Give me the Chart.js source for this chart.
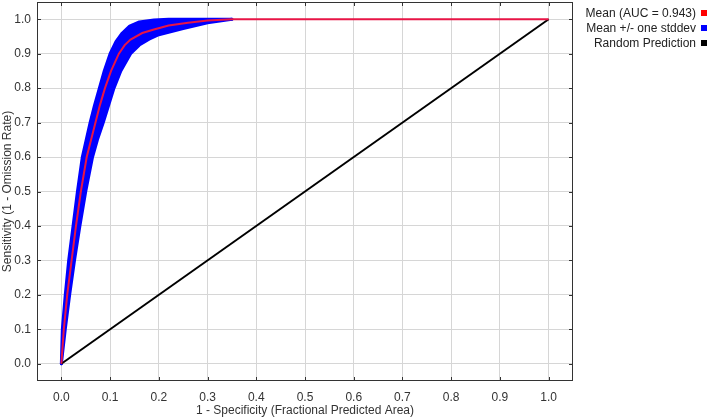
<!DOCTYPE html>
<html>
<head>
<meta charset="utf-8">
<title>ROC curve</title>
<script src="https://cdn.jsdelivr.net/npm/chart.js@4.4.0/dist/chart.umd.min.js"></script>
<style>
    body { margin: 0; background: #fff; }
    #wrap { position: relative; width: 708px; height: 420px; }
    #legend {
        position: absolute; top: 6px; right: 1px;
        font: 12px "Liberation Sans", Arial, sans-serif; color: #222;
        text-align: right;
    }
    #legend div { height: 15px; line-height: 15px; white-space: nowrap; }
    #legend span.box { display: inline-block; width: 6px; height: 6px; margin-left: 5px; vertical-align: 1px; }
</style>
</head>
<body>
<div id="wrap">
    <canvas id="roc" width="708" height="420"></canvas>
    <div id="legend"></div>
</div>
<script>
// tick values on both axes
const xTicks = [0, 0.1, 0.2, 0.3, 0.4, 0.5, 0.6, 0.7, 0.8, 0.9, 1.0];
const yTicks = [0, 0.1, 0.2, 0.3, 0.4, 0.5, 0.6, 0.7, 0.8, 0.9, 1.0];

const seriesLabels = ['Mean (AUC = 0.943)', 'Mean +/- one stddev', 'Random Prediction'];
const seriesColors = ['#ff0000', '#0000ff', '#000000'];

// mean ROC curve
const meanFpr = [0, 0.005, 0.012, 0.021, 0.030, 0.040, 0.052, 0.061, 0.070, 0.079, 0.0895, 0.102, 0.118, 0.13, 0.142, 0.166, 0.19, 0.22, 0.26, 0.3, 0.35, 1.0];
const meanTpr = [0, 0.1, 0.2, 0.3, 0.4, 0.5, 0.6, 0.65, 0.7, 0.75, 0.8, 0.85, 0.9, 0.925, 0.941, 0.96, 0.97, 0.982, 0.99, 0.996, 1.0, 1.0];

// upper / lower edge of the +/- one stddev band
const upperFpr = [0, 0.002, 0.008, 0.015, 0.024, 0.033, 0.043, 0.051, 0.059, 0.068, 0.078, 0.088, 0.1, 0.112, 0.125, 0.14, 0.16, 0.19, 0.22, 0.35];
const upperTpr = [0, 0.1, 0.2, 0.3, 0.4, 0.5, 0.6, 0.65, 0.7, 0.75, 0.8, 0.85, 0.9, 0.935, 0.96, 0.98, 0.992, 0.998, 1.0, 1.0];
const lowerFpr = [0, 0.008, 0.017, 0.027, 0.038, 0.050, 0.064, 0.074, 0.086, 0.097, 0.108, 0.122, 0.142, 0.16, 0.18, 0.2, 0.25, 0.3, 0.35];
const lowerTpr = [0, 0.1, 0.2, 0.3, 0.4, 0.5, 0.6, 0.65, 0.7, 0.75, 0.8, 0.85, 0.9, 0.925, 0.942, 0.955, 0.973, 0.99, 1.0];

// random prediction diagonal
const randomFpr = [0, 1];
const randomTpr = [0, 1];

const toPoints = (xs, ys) => xs.map((x, i) => ({ x: x, y: ys[i] }));

const FONT = { family: '"Liberation Sans", Arial, sans-serif', size: 12 };

// small inward tick marks on all four sides of the plot box
const innerTicks = {
    id: 'innerTicks',
    afterDraw(chart) {
        const { ctx, chartArea: a, scales } = chart;
        const len = 4;
        ctx.save();
        ctx.strokeStyle = '#333';
        ctx.lineWidth = 1;
        ctx.beginPath();
        xTicks.forEach(v => {
            const px = Math.round(scales.x.getPixelForValue(v)) + 0.5;
            ctx.moveTo(px, a.bottom); ctx.lineTo(px, a.bottom - len);
            ctx.moveTo(px, a.top); ctx.lineTo(px, a.top + len);
        });
        yTicks.forEach(v => {
            const py = Math.round(scales.y.getPixelForValue(v)) + 0.5;
            ctx.moveTo(a.left, py); ctx.lineTo(a.left + len, py);
            ctx.moveTo(a.right, py); ctx.lineTo(a.right - len, py);
        });
        ctx.stroke();
        ctx.strokeRect(a.left + 0.5, a.top + 0.5, a.right - a.left - 1, a.bottom - a.top - 1);
        ctx.restore();
    }
};

new Chart(document.getElementById('roc'), {
    type: 'scatter',
    data: {
        datasets: [
            {
                label: seriesLabels[0],
                data: toPoints(meanFpr, meanTpr),
                showLine: true,
                borderColor: 'rgb(232,20,70)',
                borderWidth: 2,
                pointRadius: 0,
                order: 0
            },
            {
                label: seriesLabels[2],
                data: toPoints(randomFpr, randomTpr),
                showLine: true,
                borderColor: seriesColors[2],
                borderWidth: 2,
                pointRadius: 0,
                order: 1
            },
            {
                label: seriesLabels[1],
                data: toPoints(upperFpr, upperTpr),
                showLine: true,
                borderColor: seriesColors[1],
                borderWidth: 3,
                borderJoinStyle: 'round',
                borderCapStyle: 'round',
                pointRadius: 0,
                fill: false,
                order: 2
            },
            {
                label: seriesLabels[1] + ' (lower)',
                data: toPoints(lowerFpr, lowerTpr),
                showLine: true,
                borderColor: seriesColors[1],
                backgroundColor: seriesColors[1],
                borderWidth: 3,
                borderJoinStyle: 'round',
                borderCapStyle: 'round',
                pointRadius: 0,
                fill: '-1',
                order: 3
            }
        ]
    },
    options: {
        responsive: false,
        animation: false,
        layout: { padding: { top: 2, right: 135, left: 0, bottom: 0 } },
        plugins: {
            legend: { display: false },
            tooltip: { enabled: false }
        },
        scales: {
            x: {
                type: 'linear',
                min: -0.05,
                max: 1.05,
                afterBuildTicks: s => { s.ticks = xTicks.map(v => ({ value: v })); },
                afterFit: s => { s.height = 39; s.paddingLeft = 0; s.paddingRight = 0; },
                grid: { color: '#d6d6d6', drawTicks: false },
                border: { display: false },
                ticks: { padding: 9, color: '#333', font: FONT, callback: v => v.toFixed(1) },
                title: {
                    display: true,
                    text: '1 - Specificity (Fractional Predicted Area)',
                    color: '#333',
                    font: FONT,
                    padding: { top: 0, bottom: 2 }
                }
            },
            y: {
                type: 'linear',
                min: -0.05,
                max: 1.05,
                afterBuildTicks: s => { s.ticks = yTicks.map(v => ({ value: v })); },
                afterFit: s => { s.width = 37; s.paddingTop = 0; s.paddingBottom = 0; },
                grid: { color: '#d6d6d6', drawTicks: false },
                border: { display: false },
                ticks: { padding: 6, color: '#333', font: FONT, callback: v => v.toFixed(1) },
                title: {
                    display: true,
                    text: 'Sensitivity (1 - Omission Rate)',
                    color: '#333',
                    font: FONT,
                    padding: 0
                }
            }
        }
    },
    plugins: [innerTicks]
});

// legend: text first, colour box on the right
const legendEl = document.getElementById('legend');
seriesLabels.forEach((name, i) => {
    const row = document.createElement('div');
    row.textContent = name;
    const box = document.createElement('span');
    box.className = 'box';
    box.style.background = seriesColors[i];
    row.appendChild(box);
    legendEl.appendChild(row);
});
</script>
</body>
</html>
